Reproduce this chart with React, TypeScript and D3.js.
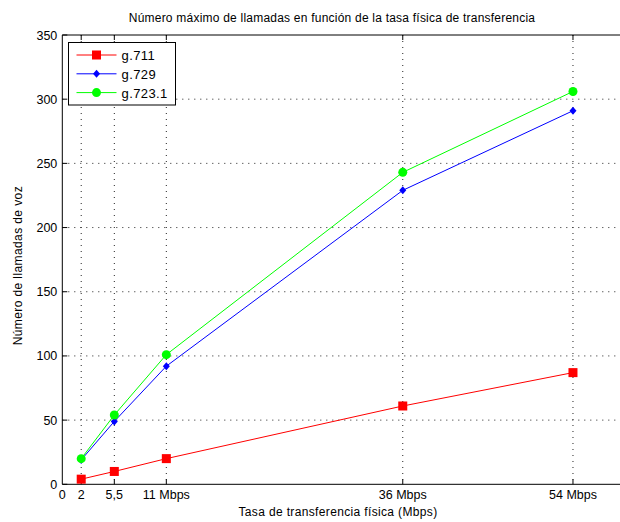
import React from 'react';
import * as d3 from 'd3';

// Tasa física (Mbps)
const rates = [2, 5.5, 11, 36, 54];
const g711 = [4, 10, 20, 61, 87];
const g729 = [19, 49, 92, 229, 291];
const g7231 = [20, 54, 101, 243, 306];

const xTicks = [0, 2, 5.5, 11, 36, 54];
const xTickLabels = ['0', '2', '5,5', '11 Mbps', '36 Mbps', '54 Mbps'];
const yTicks = [0, 50, 100, 150, 200, 250, 300, 350];

const seriesNames = ['g.711', 'g.729', 'g.723.1'];
const seriesColors = ['#ff0000', '#0000ff', '#00ff00'];
const seriesMarkers = ['square', 'diamond', 'circle'];

const width = 620;
const height = 522;
const font = '"Liberation Sans", Arial, Helvetica, sans-serif';

const Marker = ({ kind, x, y, color }: { kind: string; x: number; y: number; color: string }) => {
	if (kind === 'square') return <rect x={x - 4.5} y={y - 4.5} width={9} height={9} fill={color} />;
	if (kind === 'diamond')
		return <path d={`M${x},${y - 4}L${x + 3.5},${y}L${x},${y + 4}L${x - 3.5},${y}Z`} fill={color} />;
	return <circle cx={x} cy={y} r={4.5} fill={color} />;
};

export default function App() {
	const x = d3.scaleLinear().domain([0, 60]).range([62.3, 62.3 + 60 * 9.457]);
	const y = d3.scaleLinear().domain([0, 350]).range([484.3, 35]);
	const left = x(0);
	const top = y(350);
	const bottom = y(0);

	const allSeries = [g711, g729, g7231];
	const line = d3
		.line<number>()
		.x((_, i) => x(rates[i]))
		.y((d) => y(d));

	return (
		<svg
			width={width}
			height={height}
			style={{ position: 'absolute', left: 0, top: 0, background: '#fff' }}
			fontFamily={font}>
			<rect x={0} y={0} width={width} height={height} fill='#fff' />

			{/* grid */}
			{rates.map((r) => (
				<line
					key={'gx' + r}
					x1={x(r)}
					x2={x(r)}
					y1={top}
					y2={bottom}
					stroke='#222'
					strokeDasharray='1,5'
				/>
			))}
			{yTicks.slice(1, -1).map((v) => (
				<line
					key={'gy' + v}
					x1={left}
					x2={width}
					y1={y(v)}
					y2={y(v)}
					stroke='#222'
					strokeDasharray='1,5'
				/>
			))}

			{/* axes frame */}
			<line x1={left} x2={width} y1={bottom} y2={bottom} stroke='#000' />
			<line x1={left} x2={width} y1={top} y2={top} stroke='#000' />
			<line x1={left} x2={left} y1={top} y2={bottom} stroke='#000' />

			{/* ticks */}
			{rates.map((r) => (
				<g key={'tx' + r}>
					<line x1={x(r)} x2={x(r)} y1={bottom} y2={bottom - 5} stroke='#000' />
					<line x1={x(r)} x2={x(r)} y1={top} y2={top + 5} stroke='#000' />
				</g>
			))}
			{yTicks.map((v) => (
				<line key={'ty' + v} x1={left} x2={left + 5} y1={y(v)} y2={y(v)} stroke='#000' />
			))}

			{/* tick labels */}
			{xTicks.map((t, i) => (
				<text key={'lx' + t} x={x(t)} y={bottom + 15} fontSize={12.5} textAnchor='middle' fill='#000'>
					{xTickLabels[i]}
				</text>
			))}
			{yTicks.map((v) => (
				<text key={'ly' + v} x={left - 5} y={y(v) + 4.5} fontSize={12.5} textAnchor='end' fill='#000'>
					{v}
				</text>
			))}

			{/* series */}
			{allSeries.map((s, si) => (
				<g key={seriesNames[si]}>
					<path d={line(s) as string} fill='none' stroke={seriesColors[si]} strokeWidth={1} />
					{s.map((v, i) => (
						<Marker key={i} kind={seriesMarkers[si]} x={x(rates[i])} y={y(v)} color={seriesColors[si]} />
					))}
				</g>
			))}

			{/* legend */}
			<g transform='translate(68.5,42.5)'>
				<rect width={107} height={62.5} fill='#fff' stroke='#000' />
				{seriesNames.map((n, i) => (
					<g key={n} transform={`translate(0,${12.5 + i * 18.8})`}>
						<line x1={8} x2={48} y1={0} y2={0} stroke={seriesColors[i]} />
						<Marker kind={seriesMarkers[i]} x={28} y={0} color={seriesColors[i]} />
						<text x={53} y={5} fontSize={13} letterSpacing={0.4} fill='#000'>
							{n}
						</text>
					</g>
				))}
			</g>

			{/* titles */}
			<text x={332} y={22} fontSize={12} letterSpacing={0.22} textAnchor='middle' fill='#000'>
				Número máximo de llamadas en función de la tasa física de transferencia
			</text>
			<text x={338} y={516} fontSize={12} letterSpacing={0.35} textAnchor='middle' fill='#000'>
				Tasa de transferencia física (Mbps)
			</text>
			<text
				transform={`translate(22,${(top + bottom) / 2 + 6}) rotate(-90)`}
				fontSize={12}
				letterSpacing={0.4}
				textAnchor='middle'
				fill='#000'>
				Número de llamadas de voz
			</text>
		</svg>
	);
}
